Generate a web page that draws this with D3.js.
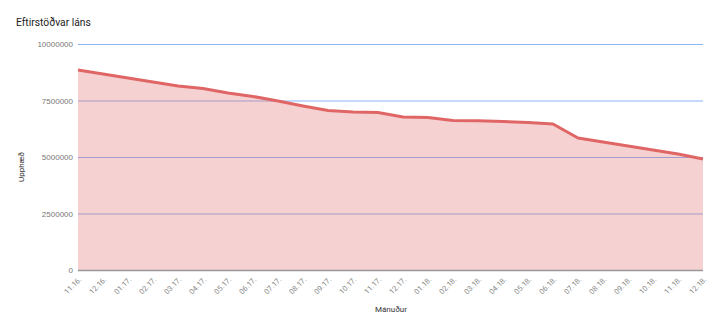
<!DOCTYPE html>
<html>
<head>
<meta charset="utf-8">
<script src="https://cdn.jsdelivr.net/npm/d3@7"></script>
<style>
  body { margin: 0; background: #fff; }
  svg { font-family: Roboto, Arial, sans-serif; }
</style>
</head>
<body>
<div id="chart"></div>
<script>
// months (x categories)
const months = ["11.16.", "12.16.", "01.17.", "02.17.", "03.17.", "04.17.", "05.17.", "06.17.", "07.17.",
  "08.17.", "09.17.", "10.17.", "11.17.", "12.17.", "01.18.", "02.18.", "03.18.", "04.18.", "05.18.",
  "06.18.", "07.18.", "08.18.", "09.18.", "10.18.", "11.18.", "12.18."];

// remaining balance
const balance = [8850000, 8670000, 8500000, 8320000, 8140000, 8030000, 7830000, 7680000, 7480000,
  7260000, 7060000, 6990000, 6970000, 6770000, 6750000, 6620000, 6600000, 6570000, 6530000,
  6460000, 5840000, 5660000, 5490000, 5310000, 5130000, 4910000];

const yTicks = [0, 2500000, 5000000, 7500000, 10000000];

const data = months.map((m, i) => ({ month: m, value: balance[i] }));

const W = 720, H = 331;
const plot = { left: 78, right: 703, top: 44, bottom: 270 };

const svg = d3.select("#chart")
  .append("svg")
  .attr("width", W)
  .attr("height", H);

const x = d3.scalePoint().domain(months).range([plot.left, plot.right]);
const y = d3.scaleLinear().domain([0, 10000000]).range([plot.bottom, plot.top]);

// gridlines + y labels
const yAxis = svg.append("g")
  .attr("transform", `translate(${plot.left},0)`)
  .call(d3.axisLeft(y).tickValues(yTicks).tickSize(-(plot.right - plot.left)).tickPadding(5).tickFormat(d3.format("d")));
yAxis.select(".domain").remove();
yAxis.selectAll(".tick line")
  .attr("stroke", "#8ab4f8")
  .attr("stroke-width", 1)
  .attr("opacity", (d) => (d === 0 ? 0 : 1));
yAxis.selectAll(".tick text")
  .attr("fill", "#777")
  .style("font-size", "8px");

// area + line
const area = d3.area()
  .x((d) => x(d.month))
  .y0(y(0))
  .y1((d) => y(d.value));

const line = d3.line()
  .x((d) => x(d.month))
  .y((d) => y(d.value));

svg.append("path")
  .datum(data)
  .attr("d", area)
  .attr("fill", "#e06666")
  .attr("fill-opacity", 0.3);

// baseline
svg.append("line")
  .attr("x1", plot.left)
  .attr("x2", plot.right)
  .attr("y1", y(0) + 0.5)
  .attr("y2", y(0) + 0.5)
  .attr("stroke", "#999")
  .attr("stroke-width", 1.5);

svg.append("path")
  .datum(data)
  .attr("d", line)
  .attr("fill", "none")
  .attr("stroke", "#e06666")
  .attr("stroke-width", 3)
  .attr("stroke-linejoin", "round");

// x labels, rotated
svg.append("g")
  .selectAll("text")
  .data(months)
  .join("text")
  .attr("transform", (d) => `translate(${x(d) + 4},${plot.bottom + 10}) rotate(-45)`)
  .attr("text-anchor", "end")
  .attr("fill", "#888")
  .style("font-size", "7.5px")
  .text((d) => d);

// title
svg.append("text")
  .attr("x", 16)
  .attr("y", 26)
  .attr("fill", "#222")
  .style("font-size", "10.3px")
  .text("Eftirstöðvar láns");

// axis titles
svg.append("text")
  .attr("transform", "translate(24,167) rotate(-90)")
  .attr("text-anchor", "middle")
  .attr("fill", "#333")
  .style("font-size", "8px")
  .text("Upphæð");

svg.append("text")
  .attr("x", 391)
  .attr("y", 312)
  .attr("text-anchor", "middle")
  .attr("fill", "#333")
  .style("font-size", "8px")
  .text("Mánuður");
</script>
</body>
</html>
